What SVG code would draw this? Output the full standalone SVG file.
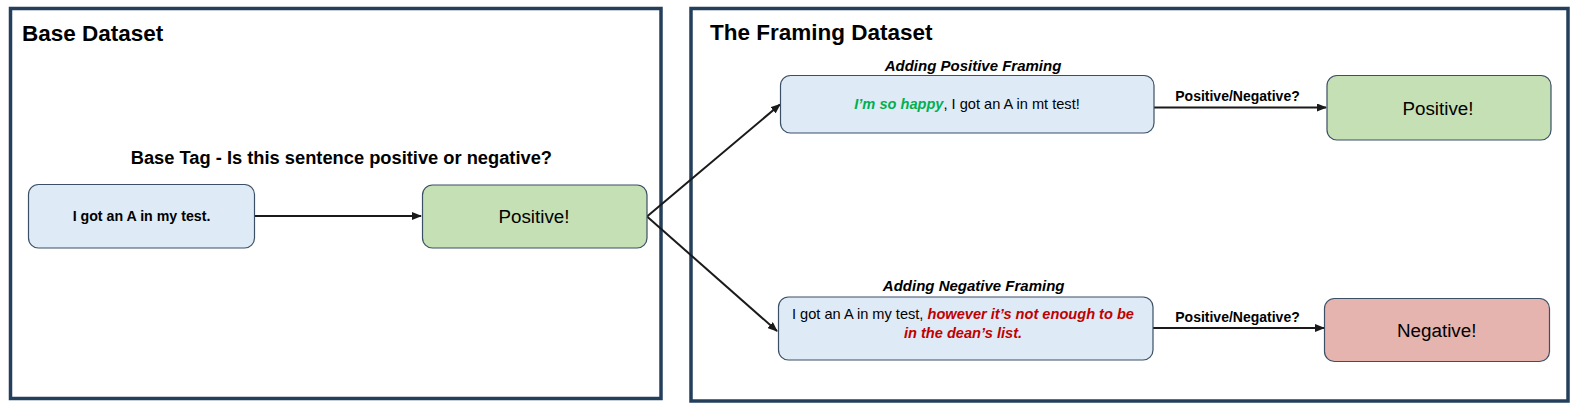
<svg xmlns="http://www.w3.org/2000/svg" width="1577" height="409" viewBox="0 0 1577 409">
<style>
.frame{fill:none;stroke:#243f5c;stroke-width:3.5}
.blue{fill:#deeaf6;stroke:#3b4f66;stroke-width:1.2}
.green{fill:#c5e0b4;stroke:#3b4f66;stroke-width:1.2}
.red{fill:#e6b4af;stroke:#3b4f66;stroke-width:1.2}
text{font-family:"Liberation Sans",Arial,sans-serif;fill:#000}
.title{font-size:22.5px;font-weight:bold}
.lab{font-size:15px;font-weight:bold;font-style:italic}
.big{font-size:18.8px}
.mid{font-size:14.6px}
.small{font-size:14px;font-weight:bold}
.conn{stroke:#1a1a1a;stroke-width:2;fill:none}
.em-g{font-weight:bold;font-style:italic;fill:#00b050}
.em-r{font-weight:bold;font-style:italic;fill:#c00000}
</style>
<defs>
<marker id="ah" markerWidth="10" markerHeight="8" refX="9" refY="4" orient="auto" markerUnits="userSpaceOnUse">
<path d="M0,0 L10,4 L0,8 Z" fill="#1a1a1a"/>
</marker>
</defs>
<rect width="1577" height="409" fill="#fff"/>
<g id="frame-base">
<rect class="frame" x="10.5" y="8.5" width="650.5" height="390"/>
<text class="title" x="22" y="41">Base Dataset</text>
</g>
<g id="frame-framing">
<rect class="frame" x="691" y="8.5" width="877" height="392.5"/>
<text class="title" x="710" y="40">The Framing Dataset</text>
</g>
<g id="connectors">
<line class="conn" x1="255" y1="216" x2="421" y2="216" marker-end="url(#ah)"/>
<line class="conn" x1="647" y1="216.5" x2="780" y2="104.5" marker-end="url(#ah)"/>
<line class="conn" x1="647" y1="216.5" x2="777" y2="331" marker-end="url(#ah)"/>
<line class="conn" x1="1154" y1="107.5" x2="1326" y2="107.5" marker-end="url(#ah)"/>
<text class="small" x="1237.5" y="101" text-anchor="middle">Positive/Negative?</text>
<line class="conn" x1="1153" y1="328" x2="1324" y2="328" marker-end="url(#ah)"/>
<text class="small" x="1237.5" y="321.5" text-anchor="middle">Positive/Negative?</text>
</g>
<g id="base-tag-label">
<text x="341.4" y="164" text-anchor="middle" style="font-size:18.3px;font-weight:bold">Base Tag - Is this sentence positive or negative?</text>
</g>
<g id="node-base-sentence">
<rect class="blue" x="28.5" y="184.5" width="226" height="63.5" rx="10"/>
<text x="141.5" y="220.5" text-anchor="middle" style="font-size:14.2px;font-weight:bold">I got an A in my test.</text>
</g>
<g id="node-base-positive">
<rect class="green" x="422.5" y="185" width="224.5" height="63" rx="10"/>
<text class="big" x="534" y="223" text-anchor="middle">Positive!</text>
</g>
<g id="node-positive-framing">
<text class="lab" x="973" y="71" text-anchor="middle">Adding Positive Framing</text>
<rect class="blue" x="780.5" y="75.5" width="373.5" height="57.5" rx="10"/>
<text class="mid" x="967" y="108.5" text-anchor="middle"><tspan class="em-g">I’m so happy</tspan>, I got an A in mt test!</text>
</g>
<g id="node-negative-framing">
<text class="lab" x="973.7" y="290.7" text-anchor="middle">Adding Negative Framing</text>
<rect class="blue" x="778.5" y="297" width="374.5" height="63" rx="10"/>
<text class="mid" x="963" y="319.3" text-anchor="middle">I got an A in my test, <tspan class="em-r">however it’s not enough to be</tspan></text>
<text class="mid em-r" x="963" y="338.3" text-anchor="middle">in the dean’s list.</text>
</g>
<g id="node-result-positive">
<rect class="green" x="1327" y="75.5" width="224" height="64.5" rx="10"/>
<text class="big" x="1438" y="115" text-anchor="middle">Positive!</text>
</g>
<g id="node-result-negative">
<rect class="red" x="1324.5" y="298.5" width="225" height="63" rx="10"/>
<text class="big" x="1436.7" y="337" text-anchor="middle">Negative!</text>
</g>
</svg>
